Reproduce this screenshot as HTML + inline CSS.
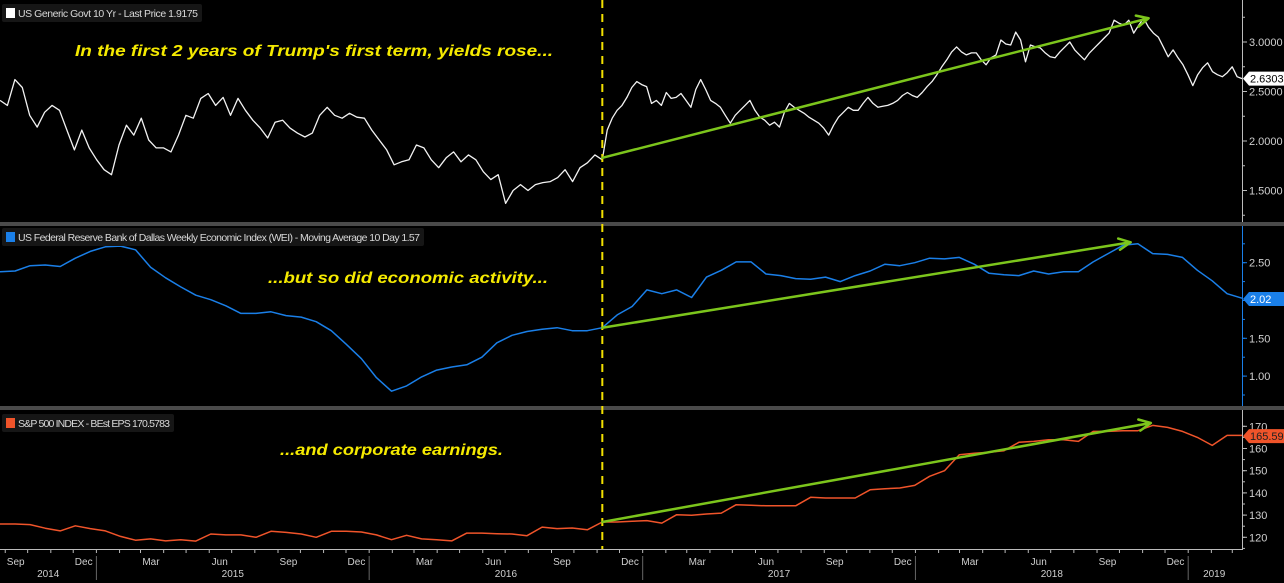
<!DOCTYPE html>
<html><head><meta charset="utf-8">
<style>
html,body{margin:0;padding:0;background:#000;}
svg{display:block;}
text{font-family:"Liberation Sans",sans-serif;}
</style></head>
<body>
<svg id="chart" width="1284" height="583" viewBox="0 0 1284 583" xmlns="http://www.w3.org/2000/svg">
<rect x="0" y="0" width="1284" height="583" fill="#000"/>
</svg>
<script>
// ---------- data ----------
const domainStart = "2014-08-25";
const domainEnd = "2019-03-14";
const electionDate = "2016-11-08";
const yieldPre = [2.41,2.36,2.62,2.54,2.26,2.14,2.29,2.36,2.31,2.11,1.91,2.11,1.93,1.81,1.71,1.66,1.96,2.16,2.06,2.23,2.01,1.93,1.93,1.89,2.06,2.26,2.23,2.43,2.48,2.36,2.44,2.26,2.43,2.31,2.21,2.13,2.03,2.19,2.21,2.13,2.08,2.04,2.08,2.26,2.34,2.26,2.23,2.28,2.24,2.23,2.11,2.01,1.91,1.76,1.79,1.81,1.96,1.93,1.81,1.73,1.83,1.89,1.79,1.86,1.81,1.69,1.61,1.66,1.37,1.50,1.56,1.50,1.56,1.58,1.59,1.63,1.71,1.59,1.73,1.78,1.86,1.81];
const yieldPost = [2.11,2.23,2.31,2.36,2.44,2.54,2.60,2.57,2.55,2.38,2.41,2.36,2.49,2.43,2.44,2.48,2.41,2.34,2.52,2.62,2.52,2.41,2.38,2.34,2.26,2.18,2.26,2.31,2.36,2.41,2.31,2.24,2.21,2.16,2.19,2.14,2.29,2.38,2.34,2.31,2.28,2.24,2.21,2.18,2.13,2.06,2.16,2.24,2.29,2.34,2.31,2.31,2.38,2.44,2.38,2.34,2.35,2.36,2.38,2.41,2.46,2.49,2.46,2.44,2.49,2.55,2.60,2.67,2.75,2.82,2.90,2.95,2.90,2.87,2.89,2.89,2.82,2.77,2.84,2.87,3.02,2.98,2.97,3.10,3.02,2.80,2.97,2.95,2.94,2.89,2.85,2.84,2.90,2.95,3.00,2.92,2.87,2.82,2.89,2.94,2.99,3.04,3.09,3.22,3.19,3.17,3.22,3.09,3.17,3.24,3.15,3.09,3.05,2.95,2.85,2.92,2.84,2.77,2.67,2.56,2.67,2.74,2.79,2.70,2.67,2.65,2.69,2.75,2.65,2.63];
const weiPre = [2.38,2.39,2.46,2.47,2.45,2.56,2.65,2.71,2.72,2.67,2.44,2.30,2.18,2.07,2.01,1.93,1.83,1.83,1.85,1.80,1.78,1.72,1.60,1.42,1.23,0.98,0.80,0.87,0.99,1.08,1.12,1.15,1.25,1.44,1.54,1.59,1.62,1.64,1.60,1.60,1.64];
const weiPost = [1.81,1.92,2.14,2.09,2.14,2.04,2.31,2.40,2.51,2.51,2.35,2.33,2.29,2.28,2.31,2.25,2.33,2.39,2.48,2.46,2.50,2.56,2.55,2.57,2.48,2.36,2.34,2.33,2.39,2.35,2.38,2.38,2.51,2.62,2.73,2.75,2.62,2.61,2.57,2.40,2.26,2.09,2.03];
const epsPre = [126.0,126.0,125.7,124.1,122.9,125.2,123.9,122.9,120.4,118.7,119.3,118.4,118.9,118.3,121.5,121.1,121.1,120.0,122.7,122.2,121.5,120.0,122.7,122.7,122.4,121.1,118.9,120.9,119.3,118.9,118.4,121.9,121.9,121.6,121.5,120.7,124.6,123.9,124.2,123.4,126.9];
const epsPost = [126.9,127.2,127.5,126.4,130.2,129.9,130.5,130.9,134.7,134.4,134.2,134.2,134.2,138.0,137.7,137.7,137.7,141.4,141.9,142.2,143.4,147.5,150.0,157.2,157.9,158.3,159.0,162.8,163.2,163.9,163.9,163.2,167.7,167.7,168.0,168.0,170.4,169.5,167.7,165.0,161.4,165.9,165.9];
const yieldTicks = ["3.0000","2.5000","2.0000","1.5000"];
const weiTicks = ["2.50","1.50","1.00"];
const epsTicks = ["170","160","150","140","130","120"];
const monthLabels = ["Sep","Dec","Mar","Jun"];
const yearLabels = ["2014","2015","2016","2017","2018","2019"];
const arrowYield = [[electionDate,1.83],["2018-11-09",3.24]];
const arrowWei = [[electionDate,1.64],["2018-10-16",2.77]];
const arrowEps = [[electionDate,126.9],["2018-11-12",171.5]];
const lastYield = "2.6303", lastWei = "2.02", lastEps = "165.5959";

// ---------- scales ----------
const NS="http://www.w3.org/2000/svg";
const svg=document.getElementById('chart');
const PL=0, PR=1242;
const d0=new Date(domainStart+"T00:00:00Z").getTime(), d1=new Date(domainEnd+"T00:00:00Z").getTime();
const DAY=86400000;
function xDate(s){const t=(typeof s==="number")?s:new Date(s+"T00:00:00Z").getTime();return PL+(t-d0)/(d1-d0)*(PR-PL);}
const yTop=v=>42+(3.0-v)*99;
const yMid=v=>262.7+(2.5-v)*75.6;
const yBot=v=>426.3+(170-v)*2.22;
const tE=new Date(electionDate+"T00:00:00Z").getTime();
const tEnd=d1;
function mk(tag,attrs){const e=document.createElementNS(NS,tag);for(const k in attrs)e.setAttribute(k,attrs[k]);svg.appendChild(e);return e;}
function seriesPts(pre,post,ys){
  const pts=[];
  const n1=pre.length-1;
  pre.forEach((v,i)=>{pts.push([xDate(d0+(tE-d0)*i/n1),ys(v)]);});
  const n2=post.length;
  post.forEach((v,j)=>{pts.push([xDate(tE+(tEnd-tE)*(j+1)/n2),ys(v)]);});
  return pts;
}
function path(pts){return pts.map((p,i)=>(i?'L':'M')+p[0].toFixed(1)+' '+p[1].toFixed(1)).join('');}

let e;
e=mk('rect',{x:0,y:222,width:1284,height:4,fill:'#4a4a4a'});


e=mk('rect',{x:0,y:406,width:1284,height:4,fill:'#4a4a4a'});



e=mk('line',{x1:1242.5,y1:0,x2:1242.5,y2:222,stroke:'#bbb','stroke-width':1});


e=mk('line',{x1:1242.5,y1:226,x2:1242.5,y2:406,stroke:'#1a7fe8','stroke-width':1});


e=mk('line',{x1:1242.5,y1:410,x2:1242.5,y2:549,stroke:'#bbb','stroke-width':1});


e=mk('line',{x1:0,y1:549.5,x2:1243,y2:549.5,stroke:'#bbb','stroke-width':1});



function yTicks(labels,ys,color,minorStep,minorRange,panel){
  labels.forEach(l=>{const y=ys(parseFloat(l));
    let t=mk('line',{x1:1242,y1:y,x2:1247,y2:y,stroke:color});
    
    
    let tx=mk('text',{x:1249,y:y+4,fill:'#cfcfcf','font-size':11});
    tx.textContent=l;
    
    
  });
  for(let v=minorRange[0];v<=minorRange[1]+1e-9;v+=minorStep){const y=ys(v);
    let t=mk('line',{x1:1242,y1:y,x2:1245,y2:y,stroke:color});
    
    }
}
yTicks(yieldTicks,yTop,'#bbb',0.25,[1.25,3.25],'yield');
yTicks(weiTicks,yMid,'#1a7fe8',0.25,[0.75,2.75],'wei');
yTicks(epsTicks,yBot,'#bbb',5,[115,170],'eps');

(function(){
  for(let y=2014;y<=2019;y++)for(let m=0;m<12;m++){
    const t=Date.UTC(y,m,1); if(t<d0||t>d1)continue;
    const x=xDate(t);
    if(x>1242)continue;
    let tk=mk('line',{x1:x,y1:549,x2:x,y2:553,stroke:'#bbb'});
    
    
    if(m%3===2){const mid=Date.UTC(y,m,15); if(xDate(mid)<1230){
      let tx=mk('text',{x:xDate(mid),y:565,fill:'#cfcfcf','font-size':10,'text-anchor':'middle'});
      tx.textContent=monthLabels[((m-8)/3+4)%4];
      
      }}
    if(m===0){let sp=mk('line',{x1:x,y1:556,x2:x,y2:580,stroke:'#666'});
      
      }
  }
  yearLabels.forEach((yl,i)=>{const y=parseInt(yl);
    const a=Math.max(d0,Date.UTC(y,0,1)), b=Math.min(d1,Date.UTC(y+1,0,1));
    let cx=(xDate(a)+xDate(b))/2; if(y===2019) cx=xDate(Date.UTC(2019,0,1))+26;
    let tx=mk('text',{x:cx,y:577,fill:'#cfcfcf','font-size':10,'text-anchor':'middle'});
    tx.textContent=yl;
    
    });
})();

e=mk('path',{d:path(seriesPts(yieldPre,yieldPost,yTop)),fill:'none',stroke:'#f2f2f2','stroke-width':1.3,'stroke-linejoin':'round'});


e=mk('path',{d:path(seriesPts(weiPre,weiPost,yMid)),fill:'none',stroke:'#1a7fe8','stroke-width':1.5,'stroke-linejoin':'round'});


e=mk('path',{d:path(seriesPts(epsPre,epsPost,yBot)),fill:'none',stroke:'#f0542a','stroke-width':1.5,'stroke-linejoin':'round'});



const xe=xDate(electionDate);
e=mk('line',{x1:xe,y1:0,x2:xe,y2:549,stroke:'#f2e000','stroke-width':2,'stroke-dasharray':'8,6'});



function arrow(a,ys,name){
  const x1=xDate(a[0][0]),y1=ys(a[0][1]),x2=xDate(a[1][0]),y2=ys(a[1][1]);
  const ang=Math.atan2(y2-y1,x2-x1),L=13,w=0.45;
  const d='M'+x1+' '+y1+'L'+x2+' '+y2+'M'+(x2-L*Math.cos(ang-w))+' '+(y2-L*Math.sin(ang-w))+'L'+x2+' '+y2+'L'+(x2-L*Math.cos(ang+w))+' '+(y2-L*Math.sin(ang+w));
  let p=mk('path',{d:d,fill:'none',stroke:'#7cc51c','stroke-width':2.5,'stroke-linecap':'round','stroke-linejoin':'round'});
  
  
}
arrow(arrowYield,yTop,'yield-trend-arrow');
arrow(arrowWei,yMid,'wei-trend-arrow');
arrow(arrowEps,yBot,'eps-trend-arrow');

function legend(x,y,w,color,label,name){
  let r=mk('rect',{x:x,y:y,width:w,height:18,fill:'#161616',rx:2});
  
  
  let s=mk('rect',{x:x+4,y:y+4,width:9,height:10,fill:color});
  
  
  let t=mk('text',{x:x+16,y:y+13,fill:'#d8d8d8','font-size':10.5});
  t.textContent=label;
  
  
  t.setAttribute('textLength',w-20);
}
legend(2,4,200,'#ffffff','US Generic Govt 10 Yr - Last Price 1.9175','yield-legend');
legend(2,228,422,'#1a7fe8','US Federal Reserve Bank of Dallas Weekly Economic Index (WEI) - Moving Average 10 Day 1.57','wei-legend');
legend(2,414,172,'#f0542a','S&P 500 INDEX - BEst EPS 170.5783','eps-legend');

function note(x,y,w,txt,name){
  let t=mk('text',{x:x,y:y,fill:'#f5ea00','font-size':16,'font-weight':'bold','font-style':'italic',textLength:w,lengthAdjust:'spacingAndGlyphs'});
  t.setAttribute('font-family','"DejaVu Sans","Liberation Sans",sans-serif');
  t.textContent=txt;
  
  
}
note(75,56,478,"In the first 2 years of Trump's first term, yields rose...",'yield-annotation');
note(268,283,280,"...but so did economic activity...",'wei-annotation');
note(280,455,223,"...and corporate earnings.",'eps-annotation');

function tag(y,bg,fg,label,w,name){
  let p=mk('path',{d:'M1243 '+y+'L1249 '+(y-7)+'L'+(1249+w)+' '+(y-7)+'L'+(1249+w)+' '+(y+7)+'L1249 '+(y+7)+'Z',fill:bg});
  
  
  let t=mk('text',{x:1250,y:y+4,fill:fg,'font-size':11});
  t.textContent=label;
  
  
}
tag(yTop(parseFloat(lastYield)),'#ffffff','#000',lastYield,40,'yield-last');
tag(yMid(parseFloat(lastWei)),'#1a7fe8','#fff',lastWei,40,'wei-last');
tag(yBot(parseFloat(lastEps)),'#f0542a','#222',lastEps,40,'eps-last');
</script>
</body></html>
